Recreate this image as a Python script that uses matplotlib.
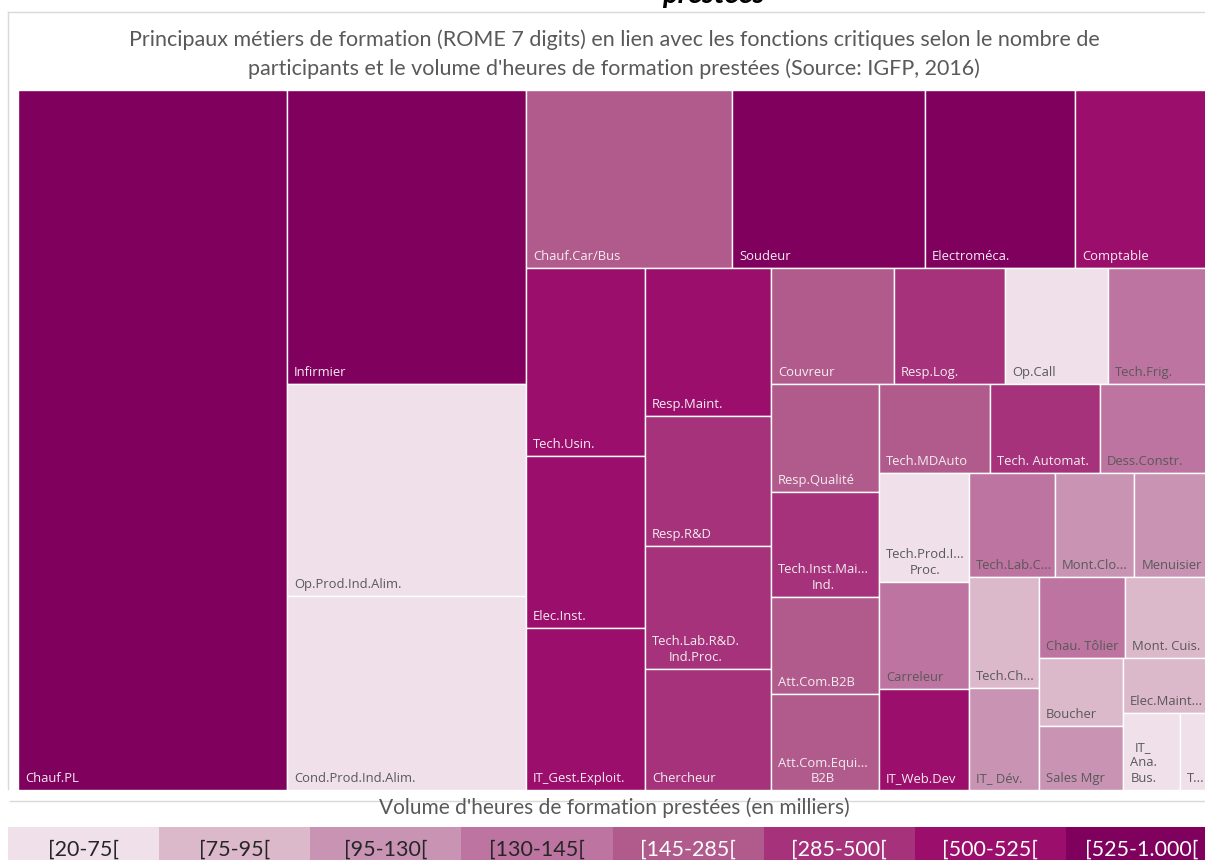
import matplotlib.pyplot as plt
from matplotlib.patches import Rectangle
from matplotlib.lines import Line2D

# métiers, triés par nombre de participants (taille des tuiles)
metiers = ['Chauf.PL', 'Infirmier', 'Op.Prod.Ind.Alim.', 'Cond.Prod.Ind.Alim.',
           'Chauf.Car/Bus', 'Soudeur', 'Electroméca.', 'Comptable',
           'Tech.Usin.', 'Elec.Inst.', 'IT_Gest.Exploit.', 'Resp.Maint.',
           'Resp.R&D', 'Tech.Lab.R&D.\nInd.Proc.', 'Chercheur', 'Couvreur',
           'Resp.Log.', 'Op.Call', 'Tech.Frig.', 'Resp.Qualité',
           'Tech.Inst.Mai...\nInd.', 'Att.Com.B2B', 'Att.Com.Equi...\nB2B',
           'Tech.MDAuto', 'Tech. Automat.', 'Dess.Constr.',
           'Tech.Prod.I...\nProc.', 'Carreleur', 'IT_Web.Dev',
           'Tech.Lab.C...', 'Mont.Clo...', 'Menuisier', 'Tech.Ch...',
           'IT_ Dév.', 'Chau. Tôlier', 'Mont. Cuis.', 'Boucher', 'Sales Mgr',
           'Elec.Maint...', 'IT_\nAna.\nBus.', 'T...']
participants = [3761, 1401, 1013, 927, 733, 687, 534, 481, 445, 409,
                386, 373, 325, 310, 305, 283, 255, 237, 235, 233,
                227, 210, 207, 198, 196, 196, 195, 193, 181, 180,
                166, 158, 154, 143, 138, 136, 114, 108, 96, 88, 46]
# classe du volume d'heures (index dans classes)
classe_heures = [7, 7, 0, 0, 4, 7, 7, 6, 6, 6,
                 6, 6, 5, 5, 5, 4, 5, 0, 3, 4,
                 5, 4, 4, 4, 5, 3, 0, 3, 6, 3,
                 2, 2, 1, 2, 3, 1, 1, 2, 1, 0, 0]

classes = ['[20-75[', '[75-95[', '[95-130[', '[130-145[',
           '[145-285[', '[285-500[', '[500-525[', '[525-1.000[']
couleurs = ['#F0E0EA', '#DCB8CB', '#C993B4', '#BE74A0',
            '#B15B8C', '#A5327B', '#9C0E6B', '#80005E']

titre = ("Principaux métiers de formation (ROME 7 digits) en lien avec les fonctions critiques selon le nombre de\n"
         "participants et le volume d'heures de formation prestées (Source: IGFP, 2016)")
titre_legende = "Volume d'heures de formation prestées (en milliers)"

FONT_TITRE = ['Lato', 'DejaVu Sans']


def worst(row, side):
    t = sum(row) / side
    return max(max(a / t ** 2, t ** 2 / a) for a in row)


def squarify(values, x, y, w, h):
    total = float(sum(values))
    areas = [v * w * h / total for v in values]
    rects = []
    i = 0
    while i < len(areas):
        vertical = h <= w          # bande empilée sur la hauteur
        side = h if vertical else w
        # les colonnes ne prennent une tuile de plus que si ça aide vraiment
        keep = 0.7 if vertical else 1.0
        row = [areas[i]]
        i += 1
        while i < len(areas) and worst(row + [areas[i]], side) <= keep * worst(row, side):
            row.append(areas[i])
            i += 1
        t = sum(row) / side
        pos = y if vertical else x
        for a in row:
            l = a / t
            if vertical:
                rects.append((x, pos, t, l))
            else:
                rects.append((pos, y, l, t))
            pos += l
        if vertical:
            x += t
            w -= t
        else:
            y += t
            h -= t
    return rects


FW, FH = 1205, 860
fig = plt.figure(figsize=(FW / 100, FH / 100), dpi=100)
fig.patch.set_facecolor('white')

# zone du treemap (dépasse un peu à droite comme sur la capture)
x0, y0, W, H = 18, 90, 1192, 700
ax = fig.add_axes([x0 / FW, (FH - y0 - H) / FH, W / FW, H / FH])
ax.set_xlim(0, W)
ax.set_ylim(H, 0)
ax.axis('off')

rects = squarify(participants, 0, 0, W, H)
for (rx, ry, rw, rh), nom, c in zip(rects, metiers, classe_heures):
    ax.add_patch(Rectangle((rx, ry), rw, rh, facecolor=couleurs[c],
                           edgecolor='white', linewidth=1.0))
    ax.text(rx + 7, ry + rh - 5, nom, ha='left', va='bottom',
            multialignment='center', linespacing=1.25,
            fontsize=9.4, family='Open Sans',
            color='#595959' if c <= 3 else '#F4ECF1')

# cadres gris
gris = '#D9D9D9'
fig.add_artist(Line2D([8 / FW, 1], [1 - 12 / FH, 1 - 12 / FH], color=gris, lw=1))
fig.add_artist(Line2D([8 / FW, 8 / FW], [1 - 12 / FH, 1 - 789 / FH], color=gris, lw=1))
fig.add_artist(Line2D([10 / FW, 1], [1 - 801 / FH, 1 - 801 / FH], color=gris, lw=1))

# fin du titre principal, coupée en haut
fig.text(713 / FW, 1 - 3 / FH, 'prestées', ha='center', va='baseline',
         fontsize=21, fontweight='bold', fontstyle='italic', color='black',
         family=FONT_TITRE)

fig.text(614 / FW, 1 - 54 / FH, titre, ha='center', va='center',
         multialignment='center', linespacing=1.5, fontsize=15.5,
         color='#595959', family=FONT_TITRE)

fig.text(614 / FW, 1 - 808 / FH, titre_legende, ha='center', va='center',
         fontsize=15, color='#595959', family=FONT_TITRE)

# légende des classes d'heures
lx0, ly0, LW, LH = 8, 827, 1209, 46
lax = fig.add_axes([lx0 / FW, (FH - ly0 - LH) / FH, LW / FW, LH / FH])
lax.bar(range(len(classes)), [1] * len(classes), width=1.0, color=couleurs)
lax.set_xlim(-0.5, len(classes) - 0.5)
lax.set_ylim(0, 1)
lax.axis('off')
for i, lab in enumerate(classes):
    lax.text(i, 0.5, lab, ha='center', va='center', fontsize=15.5,
             family=FONT_TITRE, color='#262626' if i <= 3 else 'white')

fig.savefig('out.png', dpi=100)
